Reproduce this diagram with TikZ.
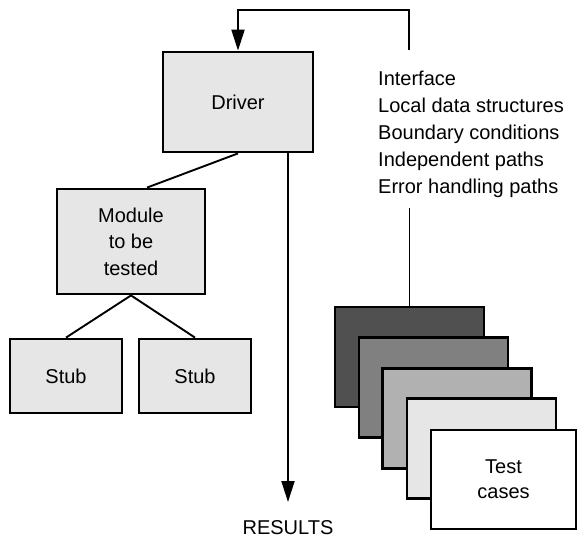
\documentclass[tikz,border=0pt]{standalone}
\usepackage{fontspec}
\setmainfont{Liberation Sans}
\usetikzlibrary{arrows.meta,calc}
\begin{document}
\begin{tikzpicture}[x=1pt,y=-1pt,
  box/.style={draw=black,line width=2.8pt,fill=boxgray,inner sep=0pt,align=center,
    font=\fontsize{20}{26.5}\selectfont},
  conn/.style={line width=1.9pt,draw=black},
  arr/.style={conn,-{Triangle[length=21pt,width=13pt]}},
  lbl/.style={inner sep=0pt,font=\fontsize{20}{27}\selectfont}]
\definecolor{boxgray}{HTML}{E6E6E6}
\definecolor{tc1}{HTML}{505050}
\definecolor{tc2}{HTML}{808080}
\definecolor{tc3}{HTML}{B1B1B1}
\definecolor{tc4}{HTML}{E6E6E6}
\useasboundingbox (0,0) rectangle (578,539);
% boxes
\node[box,minimum width=150pt,minimum height=100pt] (drv) at (238,102) {Driver};
\node[box,minimum width=148pt,minimum height=105pt] (mod) at (131,241.5) {Module\\to be\\tested};
\node[box,minimum width=112pt,minimum height=74pt] (stubA) at (66,376) {Stub};
\node[box,minimum width=112pt,minimum height=74pt] (stubB) at (195,376) {Stub};
% test case stack
\node[box,fill=tc1,minimum width=149pt,minimum height=100pt] (tcA) at (409.5,357) {};
\node[box,fill=tc2,minimum width=149pt,minimum height=100pt] (tcB) at (433.5,387.5) {};
\node[box,fill=tc3,minimum width=149pt,minimum height=100pt] (tcC) at (457,418.5) {};
\node[box,fill=tc4,minimum width=149pt,minimum height=100pt] (tcD) at (481.5,448.5) {};
\node[box,fill=white,minimum width=145pt,minimum height=99pt,font=\fontsize{20}{25}\selectfont] (tcE) at (503.5,479.5) {Test\\cases};
% text
\node[lbl,anchor=north west,align=left] (list) at (378,70.5)
  {Interface\\Local data structures\\Boundary conditions\\Independent paths\\Error handling paths};
\node[lbl] (res) at (288,528) {RESULTS};
% coordinates
\coordinate (fb) at (409,50);
\coordinate (topY) at (0,10);
\coordinate (listEnd) at (409.5,208);
\coordinate (resTip) at (288,502);
% connectors
\draw[arr] (fb) |- (drv.north |- topY) -- (drv.north);
\draw[conn] (drv.south) -- ($(mod.north)+(16,0)$);
\draw[conn] (mod.south) -- (stubA.north);
\draw[conn] (mod.south) -- (stubB.north);
\draw[arr] (drv.south -| resTip) -- (resTip);
\draw[conn] (listEnd) -- (tcA.north);
\end{tikzpicture}
\end{document}
